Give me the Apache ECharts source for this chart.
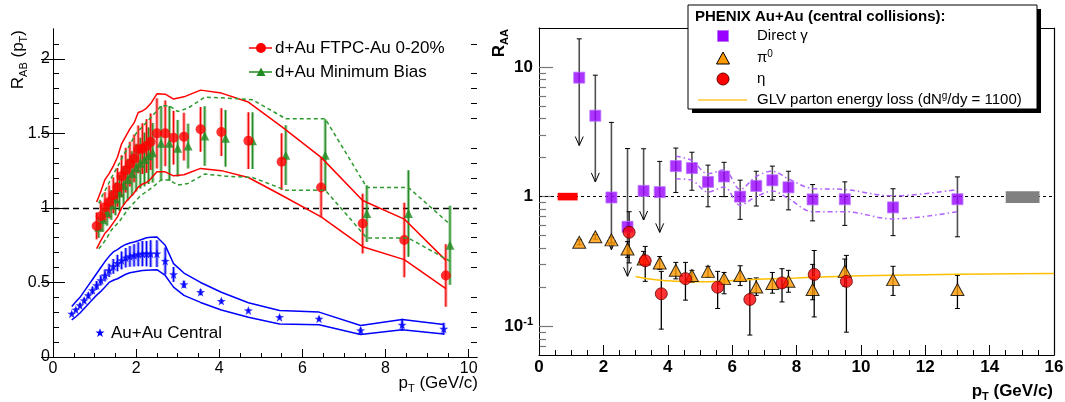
<!DOCTYPE html>
<html>
<head>
<meta charset="utf-8">
<script src="https://cdn.jsdelivr.net/npm/echarts@6/dist/echarts.min.js"></script>
<style>
  html, body { margin: 0; padding: 0; background: #fff; }
  #chart { width: 1065px; height: 402px; }
</style>
</head>
<body>
<div id="chart"></div>
<script>
// ---------- left panel: R_AB vs pT ----------
const ftpcX = [1.05, 1.15, 1.25, 1.35, 1.45, 1.55, 1.65, 1.75, 1.85, 1.95, 2.05, 2.15, 2.25, 2.35, 2.5, 2.7, 2.9, 3.15, 3.55, 4.05, 4.7, 5.5, 6.45, 7.45, 8.45, 9.45];
const ftpcY = [0.879, 0.944, 1.005, 1.04, 1.085, 1.137, 1.213, 1.253, 1.294, 1.332, 1.393, 1.397, 1.415, 1.444, 1.50, 1.50, 1.471, 1.478, 1.527, 1.509, 1.451, 1.31, 1.137, 0.895, 0.785, 0.547];
const ftpcErr = [0.09, 0.10, 0.10, 0.11, 0.12, 0.13, 0.14, 0.15, 0.15, 0.16, 0.16, 0.17, 0.18, 0.19, 0.235, 0.22, 0.18, 0.16, 0.15, 0.16, 0.19, 0.19, 0.20, 0.20, 0.25, 0.21];
const ftpcSysHi = [1.04, 1.11, 1.19, 1.23, 1.28, 1.34, 1.43, 1.48, 1.53, 1.57, 1.64, 1.65, 1.67, 1.70, 1.765, 1.763, 1.73, 1.745, 1.79, 1.77, 1.71, 1.545, 1.339, 1.05, 0.925, 0.648];
const ftpcSysLo = [0.727, 0.78, 0.83, 0.86, 0.90, 0.94, 1.0, 1.04, 1.07, 1.10, 1.14, 1.16, 1.17, 1.195, 1.242, 1.242, 1.215, 1.222, 1.265, 1.25, 1.204, 1.085, 0.94, 0.74, 0.653, 0.458];

const mbX = [1.1, 1.2, 1.3, 1.4, 1.5, 1.6, 1.7, 1.8, 1.9, 2.0, 2.1, 2.2, 2.3, 2.4, 2.6, 2.8, 3.0, 3.25, 3.65, 4.15, 4.8, 5.6, 6.55, 7.55, 8.55, 9.55];
const mbY = [0.87, 0.92, 0.97, 1.02, 1.06, 1.10, 1.15, 1.19, 1.23, 1.27, 1.30, 1.325, 1.35, 1.37, 1.433, 1.433, 1.40, 1.415, 1.482, 1.467, 1.451, 1.354, 1.354, 0.962, 0.962, 0.749];
const mbErr = [0.07, 0.08, 0.09, 0.10, 0.11, 0.12, 0.13, 0.14, 0.15, 0.16, 0.17, 0.18, 0.19, 0.20, 0.25, 0.25, 0.19, 0.15, 0.20, 0.19, 0.19, 0.20, 0.24, 0.19, 0.29, 0.265];
const mbSysHi = [1.03, 1.09, 1.14, 1.20, 1.25, 1.30, 1.36, 1.40, 1.45, 1.50, 1.53, 1.56, 1.59, 1.62, 1.685, 1.685, 1.647, 1.67, 1.742, 1.737, 1.726, 1.598, 1.598, 1.137, 1.137, 0.89];
const mbSysLo = [0.726, 0.76, 0.80, 0.85, 0.88, 0.91, 0.95, 0.99, 1.02, 1.05, 1.08, 1.10, 1.12, 1.14, 1.187, 1.187, 1.153, 1.164, 1.227, 1.213, 1.204, 1.119, 1.119, 0.798, 0.798, 0.643];

const auX = [0.45, 0.55, 0.65, 0.75, 0.85, 0.95, 1.05, 1.15, 1.25, 1.35, 1.45, 1.55, 1.65, 1.75, 1.85, 1.95, 2.05, 2.15, 2.25, 2.35, 2.5, 2.7, 2.9, 3.15, 3.55, 4.05, 4.7, 5.45, 6.4, 7.4, 8.4, 9.4];
const auY = [0.29, 0.317, 0.346, 0.379, 0.413, 0.447, 0.48, 0.514, 0.547, 0.581, 0.608, 0.63, 0.648, 0.666, 0.675, 0.682, 0.689, 0.693, 0.693, 0.693, 0.693, 0.644, 0.554, 0.487, 0.435, 0.375, 0.312, 0.267, 0.256, 0.178, 0.216, 0.189];
const auErr = [0.01, 0.012, 0.015, 0.018, 0.02, 0.025, 0.03, 0.035, 0.04, 0.045, 0.05, 0.055, 0.06, 0.065, 0.07, 0.075, 0.08, 0.085, 0.085, 0.09, 0.09, 0.09, 0.05, 0.025, 0.02, 0.015, 0.012, 0.012, 0.015, 0.02, 0.04, 0.04];
const auSysHi = [0.339, 0.37, 0.40, 0.44, 0.48, 0.52, 0.56, 0.60, 0.64, 0.675, 0.705, 0.72, 0.74, 0.755, 0.765, 0.771, 0.78, 0.79, 0.80, 0.803, 0.805, 0.749, 0.626, 0.563, 0.50, 0.434, 0.364, 0.312, 0.301, 0.211, 0.252, 0.218];
const auSysLo = [0.249, 0.27, 0.295, 0.325, 0.355, 0.385, 0.415, 0.44, 0.469, 0.50, 0.515, 0.525, 0.54, 0.555, 0.565, 0.57, 0.575, 0.58, 0.582, 0.584, 0.586, 0.547, 0.469, 0.413, 0.366, 0.315, 0.267, 0.222, 0.216, 0.151, 0.182, 0.155];

const leftXMajor = [0, 2, 4, 6, 8, 10];
const leftXMinor = [0.5, 1, 1.5, 2.5, 3, 3.5, 4.5, 5, 5.5, 6.5, 7, 7.5, 8.5, 9, 9.5];
const leftYMajor = [0, 0.5, 1, 1.5, 2];
const leftYMinor = [0.1, 0.2, 0.3, 0.4, 0.6, 0.7, 0.8, 0.9, 1.1, 1.2, 1.3, 1.4, 1.6, 1.7, 1.8, 1.9, 2.1];

// ---------- right panel: PHENIX R_AA ----------
const gamX = [1.25, 1.75, 2.25, 2.75, 3.25, 3.75, 4.25, 4.75, 5.25, 5.75, 6.25, 6.75, 7.25, 7.75, 8.5, 9.5, 11, 13];
const gamY = [8.28, 4.21, 0.985, 0.585, 1.108, 1.083, 1.72, 1.66, 1.30, 1.43, 1.0, 1.21, 1.337, 1.18, 0.952, 0.955, 0.826, 0.955];
const gamHi = [16.5, 8.65, 3.74, 2.35, 2.34, 1.87, 2.37, 2.2, 1.75, 1.84, 1.34, 1.57, 1.72, 1.57, 1.24, 1.3, 1.15, 1.42];
const gamLo = [2.48, 1.30, 0.39, 0.243, 0.66, 0.53, 1.077, 1.12, 0.835, 1.0, 0.668, 0.846, 0.94, 0.79, 0.65, 0.6, 0.50, 0.49];
const gamLimit = [1, 1, 1, 1, 1, 1, 0, 0, 0, 0, 0, 0, 0, 0, 0, 0, 0, 0];

const gamSysX = [4.25, 4.75, 5.25, 5.75, 6.25, 6.75, 7.25, 7.75, 8.5, 9.5, 11, 13];
const gamSysHi = [2.05, 1.90, 1.50, 1.61, 1.14, 1.43, 1.57, 1.37, 1.156, 1.135, 1.014, 1.135];
const gamSysLo = [1.374, 1.334, 1.086, 1.186, 0.859, 1.0, 1.104, 0.966, 0.766, 0.766, 0.673, 0.766];

const pi0X = [1.25, 1.75, 2.25, 2.75, 3.25, 3.75, 4.25, 4.75, 5.25, 5.75, 6.25, 6.75, 7.25, 7.75, 8.5, 9.5, 11, 13];
const pi0Y = [0.444, 0.49, 0.464, 0.394, 0.33, 0.308, 0.27, 0.246, 0.265, 0.233, 0.246, 0.201, 0.214, 0.222, 0.192, 0.265, 0.229, 0.192];
const pi0Hi = [0.465, 0.51, 0.485, 0.45, 0.378, 0.345, 0.311, 0.27, 0.29, 0.26, 0.293, 0.236, 0.26, 0.27, 0.30, 0.33, 0.29, 0.247];
const pi0Lo = [0.425, 0.47, 0.44, 0.34, 0.30, 0.275, 0.232, 0.218, 0.24, 0.178, 0.206, 0.173, 0.18, 0.183, 0.16, 0.204, 0.173, 0.137];

const etaX = [2.8, 3.3, 3.8, 4.55, 5.55, 6.55, 7.55, 8.55, 9.55];
const etaY = [0.531, 0.32, 0.178, 0.233, 0.2, 0.161, 0.216, 0.251, 0.222];
const etaHi = [0.765, 0.413, 0.265, 0.311, 0.265, 0.233, 0.278, 0.384, 0.352];
const etaLo = [0.308, 0.222, 0.095, 0.159, 0.137, 0.0855, 0.154, 0.118, 0.09];

const glvX = [3.0, 3.5, 4.0, 4.5, 5.0, 5.5, 6.0, 7.0, 8.0, 9.0, 10.0, 12.0, 14.0, 16.0];
const glvY = [0.242, 0.23, 0.224, 0.221, 0.22, 0.221, 0.225, 0.231, 0.236, 0.241, 0.245, 0.25, 0.253, 0.255];

// normalisation boxes at R_AA = 1: [xFrom, xTo, yFrom, yTo]
const normRed = [0.58, 1.2, 0.935, 1.07];
const normGray = [14.5, 15.55, 0.895, 1.10];

const rightYMajor = [0.1, 1, 10];
const rightYMinor = [0.07, 0.08, 0.09, 0.2, 0.3, 0.4, 0.5, 0.6, 0.7, 0.8, 0.9, 2, 3, 4, 5, 6, 7, 8, 9];

// ---------- styling ----------
const FONT = '"Liberation Sans", Arial, Helvetica, sans-serif';
const RED = '#ff0000';
const GREEN = '#228b22';
const BLUE = '#0000ff';
const VIOLET = '#9900ff';
const ORANGE = '#ff9900';
const STAR = 'path://M0,-10 L2.35,-3.24 L9.51,-3.09 L3.8,1.24 L5.88,8.09 L0,4 L-5.88,8.09 L-3.8,1.24 L-9.51,-3.09 L-2.35,-3.24 Z';
// unit star outline for the legend swatch
const STAR_PTS = [[0, -10], [2.35, -3.24], [9.51, -3.09], [3.8, 1.24], [5.88, 8.09], [0, 4], [-5.88, 8.09], [-3.8, 1.24], [-9.51, -3.09], [-2.35, -3.24]];
const starAt = (cx, cy, r) => STAR_PTS.map(p => [cx + p[0] * r / 10, cy + p[1] * r / 10]);

const pairs = (xs, ys) => xs.map((x, i) => [x, ys[i]]);
const symBars = (xs, ys, es) => xs.map((x, i) => [x, ys[i] - es[i], ys[i] + es[i], 0]);
const bars = (xs, lo, hi, lim) => xs.map((x, i) => [x, lo[i], hi[i], lim ? lim[i] : 0]);

// vertical error bar: wide translucent stroke under a thin solid one
function softBarRenderer(color, soft) {
  return function (params, api) {
    const x = api.value(0);
    const a = api.coord([x, api.value(2)]);
    const b = api.coord([x, api.value(1)]);
    return {
      type: 'group',
      children: [
        { type: 'line', shape: { x1: a[0], y1: a[1], x2: b[0], y2: b[1] }, style: { stroke: soft, lineWidth: 3.2 } },
        { type: 'line', shape: { x1: a[0], y1: a[1], x2: b[0], y2: b[1] }, style: { stroke: color, lineWidth: 1.1 } }
      ]
    };
  };
}

// vertical error bar with end caps; flagged points end in an arrow (upper limit)
function capBarRenderer(color, width) {
  return function (params, api) {
    const x = api.value(0);
    const a = api.coord([x, api.value(2)]);
    const b = api.coord([x, api.value(1)]);
    const lim = api.value(3);
    const kids = [
      { type: 'line', shape: { x1: a[0], y1: a[1], x2: b[0], y2: b[1] }, style: { stroke: color, lineWidth: width } },
      { type: 'line', shape: { x1: a[0] - 2.5, y1: a[1], x2: a[0] + 2.5, y2: a[1] }, style: { stroke: '#000', lineWidth: 1 } }
    ];
    if (lim) {
      kids.push({ type: 'polyline', shape: { points: [[b[0] - 4, b[1] - 9], [b[0], b[1]], [b[0] + 4, b[1] - 9]] }, style: { stroke: '#000', fill: null, lineWidth: 1 } });
    } else {
      kids.push({ type: 'line', shape: { x1: b[0] - 2.5, y1: b[1], x2: b[0] + 2.5, y2: b[1] }, style: { stroke: '#000', lineWidth: 1 } });
    }
    return { type: 'group', children: kids };
  };
}

function boxRenderer(params, api) {
  const p0 = api.coord([api.value(0), api.value(3)]);
  const p1 = api.coord([api.value(1), api.value(2)]);
  const colors = [RED, '#808080'];
  return {
    type: 'rect',
    shape: { x: p0[0], y: p0[1], width: p1[0] - p0[0], height: p1[1] - p0[1] },
    style: { fill: colors[api.value(4)] }
  };
}

const L = { xAxisIndex: 0, yAxisIndex: 0 };
const R = { xAxisIndex: 2, yAxisIndex: 4 };

function band(name, xs, ys, color, type, extra) {
  return Object.assign({
    name, type: 'line', data: pairs(xs, ys), symbol: 'none', silent: true,
    lineStyle: { color, width: 1.5, type }
  }, extra);
}

const noLine = { show: false };
const hidden = { show: false };

const option = {
  animation: false,
  backgroundColor: '#fff',
  grid: [
    { left: 53, top: 29, width: 424, height: 328, outerBoundsMode: 'none' },
    { left: 539, top: 28, width: 515, height: 327, outerBoundsMode: 'none' }
  ],
  xAxis: [
    {
      gridIndex: 0, type: 'value', min: 0, max: 10.2, position: 'bottom',
      axisLine: { lineStyle: { color: '#000', width: 1 } },
      axisTick: { inside: true, length: 8, customValues: leftXMajor, lineStyle: { color: '#000' } },
      axisLabel: { customValues: leftXMajor, margin: 4, fontSize: 16, fontFamily: FONT, color: '#000' },
      splitLine: hidden
    },
    {
      gridIndex: 0, type: 'value', min: 0, max: 10.2, position: 'bottom',
      axisLine: noLine,
      axisTick: { inside: true, length: 4, customValues: leftXMinor, lineStyle: { color: '#000' } },
      axisLabel: hidden, splitLine: hidden
    },
    {
      gridIndex: 1, type: 'value', min: 0, max: 16, interval: 2, position: 'bottom',
      axisLine: { lineStyle: { color: '#000', width: 1.2 } },
      axisTick: { inside: true, length: 10, lineStyle: { color: '#000' } },
      minorTick: { show: true, splitNumber: 4, length: 5, lineStyle: { color: '#000' } },
      axisLabel: { margin: 4, fontSize: 17, fontWeight: 'bold', fontFamily: FONT, color: '#000' },
      splitLine: hidden, minorSplitLine: hidden
    },
    {
      gridIndex: 1, type: 'value', min: 0, max: 16, position: 'top',
      axisLine: { lineStyle: { color: '#000', width: 1 } },
      axisTick: hidden, axisLabel: hidden, splitLine: hidden
    },
    {
      gridIndex: 0, type: 'value', min: 0, max: 10.2, position: 'top',
      axisLine: { lineStyle: { color: '#000', width: 1 } },
      axisTick: hidden, axisLabel: hidden, splitLine: hidden
    }
  ],
  yAxis: [
    {
      gridIndex: 0, type: 'value', min: 0, max: 2.2, position: 'left',
      axisLine: { lineStyle: { color: '#000', width: 1 } },
      axisTick: { inside: true, length: 12, customValues: leftYMajor, lineStyle: { color: '#000' } },
      axisLabel: { customValues: leftYMajor, margin: 3, fontSize: 16, fontFamily: FONT, color: '#000' },
      splitLine: hidden
    },
    {
      gridIndex: 0, type: 'value', min: 0, max: 2.2, position: 'left',
      axisLine: noLine,
      axisTick: { inside: true, length: 6, customValues: leftYMinor, lineStyle: { color: '#000' } },
      axisLabel: hidden, splitLine: hidden
    },
    {
      gridIndex: 0, type: 'value', min: 0, max: 2.2, position: 'right',
      axisLine: { lineStyle: { color: '#000', width: 1 } },
      axisTick: { inside: true, length: 12, customValues: leftYMajor, lineStyle: { color: '#000' } },
      axisLabel: hidden, splitLine: hidden
    },
    {
      gridIndex: 0, type: 'value', min: 0, max: 2.2, position: 'right',
      axisLine: noLine,
      axisTick: { inside: true, length: 6, customValues: leftYMinor, lineStyle: { color: '#000' } },
      axisLabel: hidden, splitLine: hidden
    },
    {
      gridIndex: 1, type: 'log', min: 0.06, max: 20, position: 'left',
      axisLine: { lineStyle: { color: '#000', width: 1 } },
      axisTick: { inside: true, length: 14, customValues: rightYMajor, lineStyle: { color: '#777', width: 1.2 } },
      axisLabel: {
        customValues: rightYMajor, margin: 6, color: '#000',
        formatter: v => {
          const e = Math.round(Math.log10(v));
          return e < 0 ? '{b|10}{p|' + e + '}' : '{b|' + Math.round(v) + '}';
        },
        rich: {
          b: { fontSize: 17, fontWeight: 'bold', fontFamily: FONT, color: '#000', lineHeight: 20 },
          p: { fontSize: 11, fontWeight: 'bold', fontFamily: FONT, color: '#000', lineHeight: 11, verticalAlign: 'top' }
        }
      },
      splitLine: hidden
    },
    {
      gridIndex: 1, type: 'log', min: 0.06, max: 20, position: 'left',
      axisLine: noLine,
      axisTick: { inside: true, length: 7, customValues: rightYMinor, lineStyle: { color: '#777', width: 1.2 } },
      axisLabel: hidden, splitLine: hidden
    },
    {
      gridIndex: 1, type: 'value', min: 0, max: 1, position: 'right',
      axisLine: { lineStyle: { color: '#000', width: 1.2 } },
      axisTick: hidden, axisLabel: hidden, splitLine: hidden
    }
  ],
  series: [
    // ----- left panel -----
    band('ftpcSysHi', ftpcX, ftpcSysHi, RED, 'solid', Object.assign({
      markLine: {
        silent: true, symbol: 'none', label: { show: false }, z: 1,
        lineStyle: { color: '#000', width: 1.4, type: [6, 4] },
        data: [{ yAxis: 1 }]
      }
    }, L)),
    band('ftpcSysLo', ftpcX, ftpcSysLo, RED, 'solid', L),
    band('mbSysHi', mbX, mbSysHi, '#2f9a2f', [4, 3], L),
    band('mbSysLo', mbX, mbSysLo, '#2f9a2f', [4, 3], L),
    band('auSysHi', auX, auSysHi, BLUE, 'solid', L),
    band('auSysLo', auX, auSysLo, BLUE, 'solid', L),
    Object.assign({ type: 'custom', name: 'mbErr', data: symBars(mbX, mbY, mbErr), encode: { x: 0, y: [1, 2] },
      renderItem: softBarRenderer(GREEN, 'rgba(34,139,34,0.45)'), silent: true }, L),
    Object.assign({ type: 'scatter', name: 'd+Au Minimum Bias', data: pairs(mbX, mbY), symbol: 'triangle', symbolSize: 9,
      itemStyle: { color: GREEN }, silent: true }, L),
    Object.assign({ type: 'custom', name: 'ftpcErr', data: symBars(ftpcX, ftpcY, ftpcErr), encode: { x: 0, y: [1, 2] },
      renderItem: softBarRenderer('#ee0000', 'rgba(255,0,0,0.4)'), silent: true }, L),
    Object.assign({ type: 'scatter', name: 'd+Au FTPC-Au 0-20%', data: pairs(ftpcX, ftpcY), symbol: 'circle', symbolSize: 10,
      itemStyle: { color: RED }, silent: true }, L),
    Object.assign({ type: 'custom', name: 'auErr', data: symBars(auX, auY, auErr), encode: { x: 0, y: [1, 2] },
      renderItem: softBarRenderer(BLUE, 'rgba(0,0,255,0.4)'), silent: true }, L),
    Object.assign({ type: 'scatter', name: 'Au+Au Central', data: pairs(auX, auY), symbol: STAR, symbolSize: 9,
      itemStyle: { color: BLUE }, silent: true }, L),

    // ----- right panel -----
    band('gamSysHi', gamSysX, gamSysHi, '#b060ff', [5, 3, 1.5, 3], Object.assign({
      smooth: 0.35,
      markLine: {
        silent: true, symbol: 'none', label: { show: false }, z: 1,
        lineStyle: { color: '#000', width: 1, type: [3, 3] },
        data: [{ yAxis: 1 }]
      }
    }, R)),
    band('gamSysLo', gamSysX, gamSysLo, '#b060ff', [5, 3, 1.5, 3], Object.assign({ smooth: 0.35 }, R)),
    Object.assign({
      type: 'custom', name: 'norm', silent: true, encode: { x: [0, 1], y: [2, 3] },
      data: [normRed.concat([0]), normGray.concat([1])],
      renderItem: boxRenderer, z: 6
    }, R),
    band('GLV', glvX, glvY, '#ffbf00', 'solid', Object.assign({ smooth: 0.4 }, R)),
    Object.assign({ type: 'custom', name: 'gamErr', data: bars(gamX, gamLo, gamHi, gamLimit), encode: { x: 0, y: [1, 2] },
      renderItem: capBarRenderer('#505050', 1.6), silent: true, z: 3 }, R),
    Object.assign({ type: 'scatter', name: 'Direct γ', data: pairs(gamX, gamY), symbol: 'rect', symbolSize: 11,
      itemStyle: { color: VIOLET, borderColor: '#b870ff', borderWidth: 1 }, silent: true, z: 3 }, R),
    Object.assign({ type: 'custom', name: 'pi0Err', data: bars(pi0X, pi0Lo, pi0Hi), encode: { x: 0, y: [1, 2] },
      renderItem: capBarRenderer('#000', 1.3), silent: true, z: 3 }, R),
    Object.assign({ type: 'scatter', name: 'π0', data: pairs(pi0X, pi0Y), symbol: 'triangle', symbolSize: [13, 12],
      itemStyle: { color: ORANGE, borderColor: '#000', borderWidth: 1 }, silent: true, z: 3 }, R),
    Object.assign({ type: 'custom', name: 'etaErr', data: bars(etaX, etaLo, etaHi), encode: { x: 0, y: [1, 2] },
      renderItem: capBarRenderer('#000', 1.3), silent: true, z: 3 }, R),
    Object.assign({ type: 'scatter', name: 'η', data: pairs(etaX, etaY), symbol: 'circle', symbolSize: 12,
      itemStyle: { color: RED, borderColor: '#600', borderWidth: 1 }, silent: true, z: 3 }, R)
  ],
  graphic: [
    // left panel legend
    { type: 'line', z: 50, shape: { x1: 249, y1: 48, x2: 272, y2: 48 }, style: { stroke: RED, lineWidth: 1.5 } },
    { type: 'circle', z: 51, shape: { cx: 261, cy: 48, r: 5 }, style: { fill: RED } },
    { type: 'text', z: 50, x: 275, y: 48, style: { text: 'd+Au FTPC-Au 0-20%', fontSize: 17, fontFamily: FONT, fill: '#000', verticalAlign: 'middle' } },
    { type: 'line', z: 50, shape: { x1: 249, y1: 72, x2: 272, y2: 72 }, style: { stroke: GREEN, lineWidth: 1.5 } },
    { type: 'polygon', z: 51, shape: { points: [[261, 67.5], [256.5, 76], [265.5, 76]] }, style: { fill: GREEN } },
    { type: 'text', z: 50, x: 275, y: 72, style: { text: 'd+Au Minimum Bias', fontSize: 17, fontFamily: FONT, fill: '#000', verticalAlign: 'middle' } },
    { type: 'polygon', z: 51, shape: { points: starAt(100, 333, 4.8) }, style: { fill: BLUE } },
    { type: 'text', z: 50, x: 111, y: 333, style: { text: 'Au+Au Central', fontSize: 17, fontFamily: FONT, fill: '#000', verticalAlign: 'middle' } },

    // left panel axis titles
    { type: 'text', z: 50, x: 478, y: 383, style: {
      text: '{n|p}{s|T}{n| (GeV/c)}', align: 'right', verticalAlign: 'middle',
      rich: { n: { fontSize: 17, fontFamily: FONT, fill: '#000', lineHeight: 22 }, s: { fontSize: 11, fontFamily: FONT, fill: '#000', lineHeight: 11, verticalAlign: 'bottom' } }
    } },
    { type: 'text', z: 50, x: 18, y: 30, rotation: Math.PI / 2, style: {
      text: '{n|R}{s|AB}{n| (p}{s|T}{n|)}', align: 'right', verticalAlign: 'middle',
      rich: { n: { fontSize: 17, fontFamily: FONT, fill: '#000', lineHeight: 22 }, s: { fontSize: 11, fontFamily: FONT, fill: '#000', lineHeight: 11, verticalAlign: 'bottom' } }
    } },

    // right panel axis titles
    { type: 'text', z: 50, x: 1053, y: 391, style: {
      text: '{n|p}{s|T}{n| (GeV/c)}', align: 'right', verticalAlign: 'middle',
      rich: { n: { fontSize: 17, fontWeight: 'bold', fontFamily: FONT, fill: '#000', lineHeight: 22 }, s: { fontSize: 11, fontWeight: 'bold', fontFamily: FONT, fill: '#000', lineHeight: 11, verticalAlign: 'bottom' } }
    } },
    { type: 'text', z: 50, x: 499, y: 29, rotation: Math.PI / 2, style: {
      text: '{n|R}{s|AA}', align: 'right', verticalAlign: 'middle',
      rich: { n: { fontSize: 17, fontWeight: 'bold', fontFamily: FONT, fill: '#000', lineHeight: 22 }, s: { fontSize: 11, fontWeight: 'bold', fontFamily: FONT, fill: '#000', lineHeight: 11, verticalAlign: 'bottom' } }
    } },

    // right panel legend box
    { type: 'rect', z: 60, shape: { x: 692, y: 9, width: 349, height: 104 }, style: { fill: '#000' } },
    { type: 'rect', z: 61, shape: { x: 688, y: 5, width: 349, height: 104 }, style: { fill: '#fff', stroke: '#000', lineWidth: 1 } },
    { type: 'text', z: 62, x: 695, y: 17, style: { text: 'PHENIX Au+Au (central collisions):', fontSize: 15, fontWeight: 'bold', fontFamily: FONT, fill: '#000', verticalAlign: 'middle' } },
    { type: 'rect', z: 62, shape: { x: 717.5, y: 30.5, width: 11, height: 11 }, style: { fill: VIOLET, stroke: '#b870ff', lineWidth: 1 } },
    { type: 'text', z: 62, x: 757, y: 36, style: { text: 'Direct γ', fontSize: 15, fontFamily: FONT, fill: '#000', verticalAlign: 'middle' } },
    { type: 'polygon', z: 62, shape: { points: [[723, 52], [716.5, 64], [729.5, 64]] }, style: { fill: ORANGE, stroke: '#000', lineWidth: 1 } },
    { type: 'text', z: 62, x: 757, y: 58, style: {
      text: '{n|π}{p|0}', verticalAlign: 'middle',
      rich: { n: { fontSize: 15, fontFamily: FONT, fill: '#000', lineHeight: 18 }, p: { fontSize: 10, fontFamily: FONT, fill: '#000', lineHeight: 10, verticalAlign: 'top' } }
    } },
    { type: 'circle', z: 62, shape: { cx: 723, cy: 79, r: 6 }, style: { fill: RED, stroke: '#600', lineWidth: 1 } },
    { type: 'text', z: 62, x: 757, y: 79, style: { text: 'η', fontSize: 15, fontFamily: FONT, fill: '#000', verticalAlign: 'middle' } },
    { type: 'line', z: 62, shape: { x1: 698, y1: 100, x2: 747, y2: 100 }, style: { stroke: '#ffc830', lineWidth: 1.5 } },
    { type: 'text', z: 62, x: 757, y: 100, style: {
      text: '{n|GLV parton energy loss (dN}{p|g}{n|/dy = 1100)}', verticalAlign: 'middle',
      rich: { n: { fontSize: 15, fontFamily: FONT, fill: '#000', lineHeight: 18 }, p: { fontSize: 10, fontFamily: FONT, fill: '#000', lineHeight: 10, verticalAlign: 'top' } }
    } }
  ]
};

const chart = echarts.init(document.getElementById('chart'), null, { renderer: 'canvas' });
chart.setOption(option);
</script>
</body>
</html>
